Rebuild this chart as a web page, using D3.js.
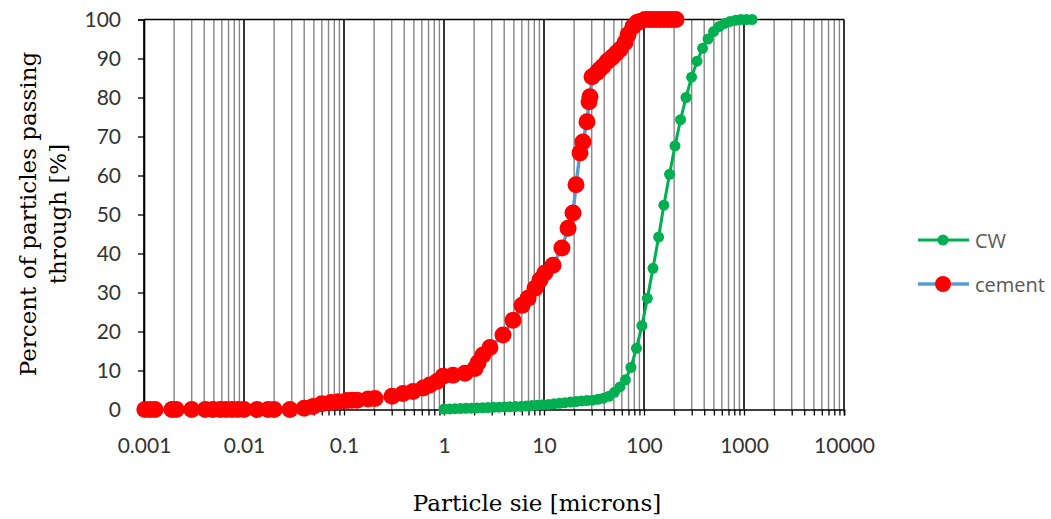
<!DOCTYPE html>
<html>
<head>
<meta charset="utf-8">
<script src="https://cdn.jsdelivr.net/npm/d3@7"></script>
<style>
  html, body { margin: 0; padding: 0; background: #ffffff; }
  svg { display: block; }
</style>
</head>
<body>
<div id="chart"></div>
<script>
// particle size (microns) and percent passing
var cwSize = [1.00, 1.14, 1.29, 1.46, 1.66, 1.88, 2.14, 2.43, 2.75, 3.12, 3.55, 4.03, 4.57, 5.18,
    5.88, 6.68, 7.58, 8.60, 9.76, 11.1, 12.6, 14.3, 16.2, 18.4, 20.9, 23.7, 26.9, 30.5, 34.6,
    39.3, 44.6, 50.6, 57.5, 65.2, 74.0, 84.0, 95.4, 108, 123, 140, 158, 180, 204, 232, 263,
    299, 339, 385, 437, 496, 563, 639, 725, 823, 934, 1060, 1203];
var cwPassing = [0.1, 0.15, 0.2, 0.25, 0.3, 0.35, 0.4, 0.45, 0.5, 0.55, 0.6, 0.65, 0.7, 0.75,
    0.8, 0.9, 1.0, 1.1, 1.2, 1.3, 1.45, 1.6, 1.75, 1.9, 2.05, 2.2, 2.3, 2.4, 2.6,
    2.9, 3.4, 4.4, 5.8, 7.6, 10.8, 15.7, 21.5, 28.5, 36.2, 44.2, 52.4, 60.3, 67.6, 74.3, 80.0,
    85.2, 89.3, 92.6, 95.0, 96.9, 98.2, 99.0, 99.5, 99.8, 100, 100, 100];

var cementSize = [0.00102, 0.00115, 0.00129, 0.0019, 0.0021, 0.0030, 0.0041, 0.0049, 0.0058,
    0.0066, 0.0076, 0.0087, 0.0100, 0.0135, 0.0174, 0.0200, 0.0288, 0.040, 0.049, 0.060,
    0.074, 0.087, 0.107, 0.120, 0.135, 0.174, 0.204, 0.302, 0.389, 0.49, 0.62, 0.72, 0.85,
    0.98, 1.23, 1.62, 2.04, 2.19, 2.45, 2.88, 3.89, 4.90, 6.03, 6.92, 8.13, 9.12, 10.2, 12.3,
    15.1, 17.4, 19.5, 20.9, 22.9, 24.5, 26.9, 28.2, 28.8, 30.2, 33.9, 36.0, 38.9, 42.7, 46.0,
    49.0, 53.0, 57.5, 64.6, 69.2, 77.6, 85.0, 91.2, 102, 112, 120, 132, 145, 158, 174, 190, 209];
var cementPassing = [0, 0, 0, 0, 0, 0, 0, 0, 0,
    0, 0, 0, 0, 0, 0, 0, 0, 0.3, 0.8, 1.5,
    1.8, 2.0, 2.3, 2.35, 2.4, 2.7, 2.8, 3.4, 4.1, 4.6, 5.5, 6.3, 7.2,
    8.5, 8.8, 9.3, 10.5, 12.0, 14.0, 15.9, 19.1, 22.9, 26.7, 28.5, 31.1, 33.2, 35.0, 37.0,
    41.4, 46.5, 50.4, 57.6, 65.8, 68.6, 73.8, 78.9, 80.2, 85.3, 86.4, 87.2, 88.0, 89.2, 89.9,
    90.5, 91.4, 92.3, 94.1, 96.1, 98.2, 99.2, 99.5, 100, 100, 100, 100, 100, 100, 100, 100, 100];

var yTicks = [0, 10, 20, 30, 40, 50, 60, 70, 80, 90, 100];
var xTickLabels = ["0.001", "0.01", "0.1", "1", "10", "100", "1000", "10000"];

var WIDTH = 1051;
var HEIGHT = 519;
var LEFT = 144, RIGHT = 844, TOP = 19.5, BOTTOM = 409.5;
var TEXT = "#333333";

var svg = d3.select("#chart")
    .append("svg")
    .attr("width", WIDTH)
    .attr("height", HEIGHT);

var x = d3.scaleLog().domain([0.001, 10000]).range([LEFT, RIGHT]);
var y = d3.scaleLinear().domain([0, 100]).range([BOTTOM, TOP]);

drawGrid();
drawAxes();
drawSeries(zip(cwSize, cwPassing), "#00b050", 3, "#00b050", 5.5);
drawSeries(zip(cementSize, cementPassing), "#5b9bd5", 3.5, "#ff0000", 8.5);
drawTitles();
drawLegend();

function zip(xs, ys) {
    return xs.map(function (d, i) { return {x: d, y: ys[i]}; });
}

function decadeTicks() {
    var ticks = [];
    for (var e = -3; e < 4; e++) {
        for (var m = 1; m < 10; m++) {
            ticks.push({v: m * Math.pow(10, e), major: m === 1});
        }
    }
    ticks.push({v: 10000, major: true});
    return ticks;
}

function drawGrid() {
    var ticks = decadeTicks();
    svg.append("g").selectAll("line")
        .data(ticks)
        .enter()
        .append("line")
        .attr("x1", function (d) { return x(d.v); })
        .attr("x2", function (d) { return x(d.v); })
        .attr("y1", TOP)
        .attr("y2", BOTTOM)
        .attr("stroke", function (d) { return d.major ? "#000000" : "#868686"; })
        .attr("stroke-width", function (d) { return d.major ? 1.6 : 1.4; });

    svg.append("line")
        .attr("x1", LEFT).attr("x2", RIGHT)
        .attr("y1", TOP).attr("y2", TOP)
        .attr("stroke", "#000000")
        .attr("stroke-width", 1.5);
}

function drawAxes() {
    var ticks = decadeTicks();
    var xAxis = d3.axisBottom(x)
        .tickValues(ticks.map(function (d) { return d.v; }))
        .tickSize(6)
        .tickFormat(function (d) {
            var i = Math.round(Math.log10(d)) + 3;
            return Math.abs(Math.log10(d) - Math.round(Math.log10(d))) < 1e-9 ? xTickLabels[i] : "";
        });
    var gx = svg.append("g")
        .attr("transform", "translate(0," + BOTTOM + ")")
        .call(xAxis);
    gx.select(".domain").attr("stroke", "#000000").attr("stroke-width", 1.6);
    gx.selectAll(".tick line").attr("stroke", "#000000").attr("stroke-width", 1.3);
    gx.selectAll(".tick text")
        .attr("dy", 0)
        .attr("y", 43)
        .attr("fill", TEXT)
        .style("font-family", "Lato, 'Open Sans', sans-serif")
        .style("font-size", "21px");

    var yAxis = d3.axisLeft(y)
        .tickValues(yTicks)
        .tickSize(6)
        .tickPadding(17);
    var gy = svg.append("g")
        .attr("transform", "translate(" + LEFT + ",0)")
        .call(yAxis);
    gy.select(".domain").attr("stroke", "#000000").attr("stroke-width", 1.6);
    gy.selectAll(".tick line").attr("stroke", "#000000").attr("stroke-width", 1.3);
    gy.selectAll(".tick text")
        .attr("fill", TEXT)
        .style("font-family", "Lato, 'Open Sans', sans-serif")
        .style("font-size", "21px");
}

function drawSeries(data, lineColor, lineWidth, dotColor, r) {
    var line = d3.line()
        .x(function (d) { return x(d.x); })
        .y(function (d) { return y(d.y); });

    svg.append("path")
        .datum(data)
        .attr("d", line)
        .attr("fill", "none")
        .attr("stroke", lineColor)
        .attr("stroke-width", lineWidth)
        .attr("stroke-linejoin", "round");

    svg.append("g").selectAll("circle")
        .data(data)
        .enter()
        .append("circle")
        .attr("cx", function (d) { return x(d.x); })
        .attr("cy", function (d) { return y(d.y); })
        .attr("r", r)
        .attr("fill", dotColor);
}

function drawTitles() {
    svg.append("text")
        .text("Particle sie [microns]")
        .attr("x", 537)
        .attr("y", 511)
        .attr("text-anchor", "middle")
        .attr("fill", "#000000")
        .style("font-family", "'DejaVu Serif', serif")
        .style("font-size", "23px");

    var t = svg.append("text")
        .attr("transform", "translate(0,214) rotate(-90)")
        .attr("text-anchor", "middle")
        .attr("fill", "#000000")
        .style("font-family", "'DejaVu Serif', serif")
        .style("font-size", "23px");
    t.append("tspan").attr("x", 0).attr("y", 36).text("Percent of particles passing");
    t.append("tspan").attr("x", 0).attr("y", 66).text("through [%]");
}

function drawLegend() {
    var items = [
        {name: "CW", line: "#00b050", dot: "#00b050", r: 5.5, w: 3, yy: 240},
        {name: "cement", line: "#5b9bd5", dot: "#ff0000", r: 8, w: 3.5, yy: 284}
    ];
    var g = svg.append("g").selectAll("g")
        .data(items)
        .enter()
        .append("g");
    g.append("line")
        .attr("x1", 918).attr("x2", 969)
        .attr("y1", function (d) { return d.yy; })
        .attr("y2", function (d) { return d.yy; })
        .attr("stroke", function (d) { return d.line; })
        .attr("stroke-width", function (d) { return d.w; });
    g.append("circle")
        .attr("cx", 943)
        .attr("cy", function (d) { return d.yy; })
        .attr("r", function (d) { return d.r; })
        .attr("fill", function (d) { return d.dot; });
    g.append("text")
        .text(function (d) { return d.name; })
        .attr("x", 975)
        .attr("y", function (d) { return d.yy + 8; })
        .attr("fill", "#595959")
        .style("font-family", "'Open Sans', Lato, sans-serif")
        .style("font-size", "20px");
}
</script>
</body>
</html>
